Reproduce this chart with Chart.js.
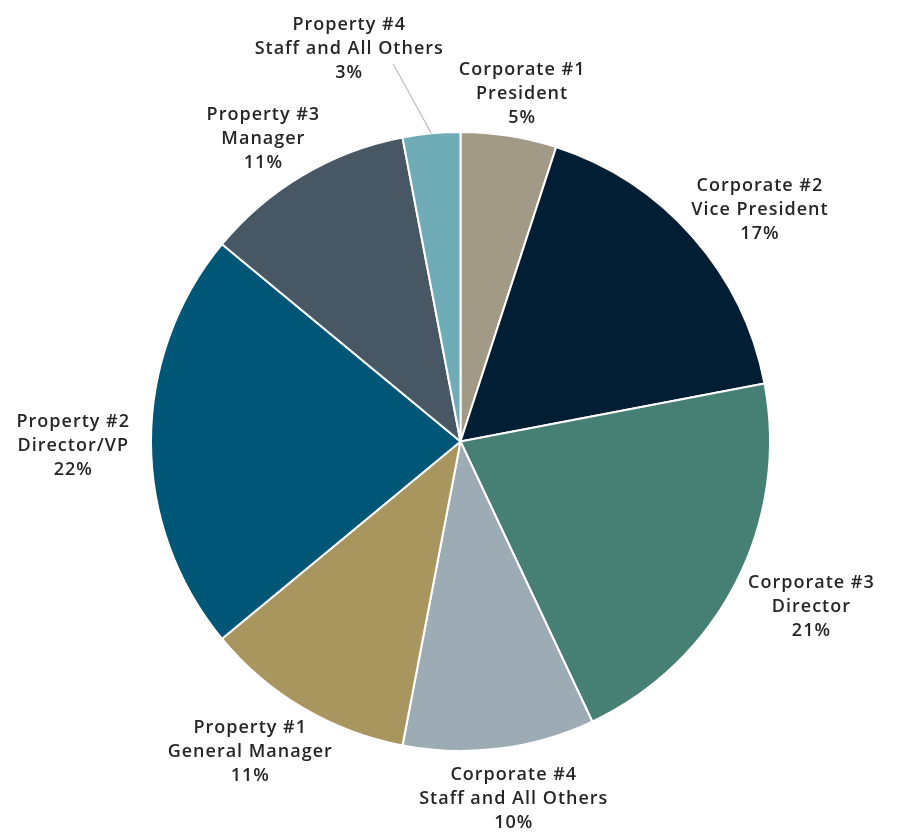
<!DOCTYPE html>
<html>
<head>
<meta charset="utf-8">
<script src="https://cdn.jsdelivr.net/npm/chart.js@4.4.1/dist/chart.umd.min.js"></script>
<style>
  html, body { margin: 0; padding: 0; background: #fff; }
  #wrap { width: 907px; height: 832px; }
</style>
</head>
<body>
<div id="wrap"><canvas id="pie" width="907" height="832"></canvas></div>
<script>
// slices, clockwise from 12 o'clock
const groups = ['Corporate #1', 'Corporate #2', 'Corporate #3', 'Corporate #4',
                'Property #1', 'Property #2', 'Property #3', 'Property #4'];
const roles = ['President', 'Vice President', 'Director', 'Staff and All Others',
               'General Manager', 'Director/VP', 'Manager', 'Staff and All Others'];
const shares = [5, 17, 21, 10, 11, 22, 11, 3];
const colors = ['#A29A86', '#011E35', '#467F74', '#9DABB5',
                '#A9965F', '#005677', '#475764', '#70ABB8'];

const FONT = '600 18px "Open Sans", sans-serif';
const LH = 24;

// outside-end labels; tiny slices get pulled out with a leader line
const outsideLabels = {
  id: 'outsideLabels',
  afterDatasetsDraw(chart) {
    const ctx = chart.ctx;
    const meta = chart.getDatasetMeta(0);
    ctx.save();
    ctx.font = FONT;
    ctx.letterSpacing = '1px';
    const placed = [];

    meta.data.forEach((arc, i) => {
      const p = arc.getProps(['x', 'y', 'startAngle', 'endAngle', 'outerRadius'], true);
      const mid = (p.startAngle + p.endAngle) / 2;
      const ux = Math.cos(mid), uy = Math.sin(mid);
      const lines = [groups[i], roles[i], shares[i] + '%'];
      const w = Math.max(...lines.map(t => ctx.measureText(t).width));
      const h = LH * lines.length;
      const small = shares[i] < 4;
      const R = p.outerRadius + (small ? 53 : 11);
      const cx = p.x + ux * (R + 10) + ux * w / 2;
      const cy = p.y + uy * R + uy * h / 2 + 4;
      placed.push({ cx, cy, w, h, lines, small, p, ux, uy });
    });

    // slide small labels sideways off their neighbours
    placed.forEach(a => {
      if (!a.small) return;
      placed.forEach(b => {
        if (a === b) return;
        const overlapY = Math.abs(a.cy - b.cy) < (a.h + b.h) / 2;
        const overlapX = Math.abs(a.cx - b.cx) < (a.w + b.w) / 2 + 15;
        if (overlapX && overlapY) {
          const s = Math.sign(a.cx - b.cx) || -1;
          a.cx = b.cx + s * ((a.w + b.w) / 2 + 15);
        }
      });
    });

    placed.forEach(l => {
      if (l.small) {
        const ax = l.p.x + l.ux * l.p.outerRadius;
        const ay = l.p.y + l.uy * l.p.outerRadius;
        const lastW = ctx.measureText(l.lines[l.lines.length - 1]).width;
        ctx.strokeStyle = '#BFBFBF';
        ctx.lineWidth = 1.2;
        ctx.beginPath();
        ctx.moveTo(ax, ay);
        ctx.lineTo(l.cx + lastW / 2 + 30, l.cy - l.h / 2 + 2 * LH + 3);
        ctx.stroke();
      }
      ctx.fillStyle = '#262626';
      ctx.textAlign = 'center';
      ctx.textBaseline = 'middle';
      l.lines.forEach((t, k) => {
        ctx.fillText(t, l.cx, l.cy - l.h / 2 + LH * (k + 0.5));
      });
    });
    ctx.restore();
  }
};

new Chart(document.getElementById('pie'), {
  type: 'pie',
  data: {
    labels: groups.map((g, i) => g + ' ' + roles[i]),
    datasets: [{
      data: shares,
      backgroundColor: colors,
      borderColor: '#FFFFFF',
      borderWidth: 2,
    }],
  },
  options: {
    responsive: false,
    animation: false,
    layout: { padding: { top: 131, bottom: 80, left: 150, right: 136 } },
    plugins: {
      legend: { display: false },
      tooltip: { enabled: false },
    },
  },
  plugins: [outsideLabels],
});
</script>
</body>
</html>
